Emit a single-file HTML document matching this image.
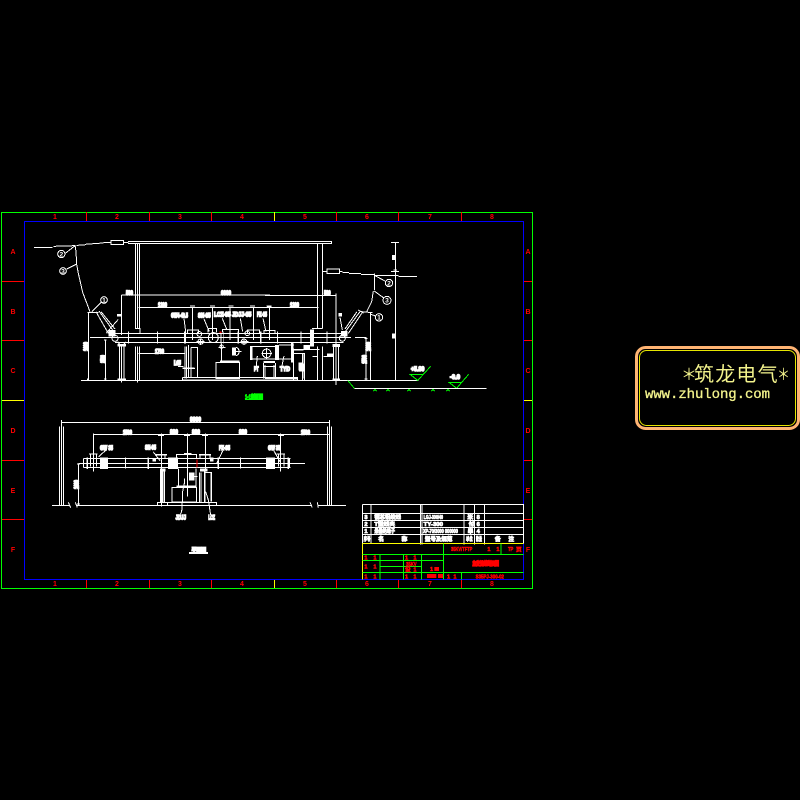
<!DOCTYPE html>
<html>
<head>
<meta charset="utf-8">
<title>Diagram</title>
<style>
html,body{margin:0;padding:0;background:#000;width:800px;height:800px;overflow:hidden}
svg{display:block}
.w{fill:none;stroke:#fff;stroke-width:3;shape-rendering:crispEdges}
.f{fill:#fff;stroke:none;shape-rendering:crispEdges}
.g{fill:none;stroke:#0f0;stroke-width:3;shape-rendering:crispEdges}
.t{font-family:"Liberation Sans","Noto Sans CJK SC",sans-serif;font-weight:bold;font-size:18px;fill:#fff;stroke:#fff;stroke-width:4.5}
.t2{font-family:"Liberation Sans","Noto Sans CJK SC",sans-serif;font-weight:bold;font-size:17px;fill:#fff;stroke:#fff;stroke-width:2.5}
.tn{font-family:"Liberation Sans",sans-serif;font-weight:bold;font-size:20px;fill:#fff}
.r{font-family:"Liberation Sans","Noto Sans CJK SC",sans-serif;font-weight:bold;font-size:7px;fill:#f00}
.rs{font-family:"Liberation Sans","Noto Sans CJK SC",sans-serif;font-weight:bold;font-size:17px;fill:#f00;stroke:#f00;stroke-width:1.5}
.wm{font-family:"Liberation Sans","Noto Sans CJK SC",sans-serif;fill:#f3f38c}
</style>
</head>
<body>
<svg width="800" height="800" viewBox="0 0 800 800" xmlns="http://www.w3.org/2000/svg">
<rect width="800" height="800" fill="#000"/>

<!-- frame -->
<g fill="none" shape-rendering="crispEdges" stroke-width="1">
<rect x="1.5" y="212.5" width="531" height="376" stroke="#0f0"/>
<rect x="24.5" y="221.5" width="499" height="358" stroke="#00f"/>
<path stroke="#f00" d="M86.5 212V221M149.5 212V221M211.5 212V221M336.5 212V221M398.5 212V221M461.5 212V221M86.5 580V588M149.5 580V588M211.5 580V588M336.5 580V588M398.5 580V588M461.5 580V588M2 281.5H24M2 340.5H24M2 460.5H24M2 519.5H24M524 281.5H532M524 340.5H532M524 460.5H532M524 519.5H532"/>
<path stroke="#ff0" d="M274.5 212V221M274.5 580V588M2 400.5H24M524 400.5H532"/>
</g>
<g class="r" text-anchor="middle">
<text x="55" y="219">1</text><text x="117" y="219">2</text><text x="180" y="219">3</text><text x="242" y="219">4</text><text x="305" y="219">5</text><text x="367" y="219">6</text><text x="430" y="219">7</text><text x="492" y="219">8</text>
<text x="55" y="586">1</text><text x="117" y="586">2</text><text x="180" y="586">3</text><text x="242" y="586">4</text><text x="305" y="586">5</text><text x="367" y="586">6</text><text x="430" y="586">7</text><text x="492" y="586">8</text>
<text x="13" y="254">A</text><text x="13" y="314">B</text><text x="13" y="373">C</text><text x="13" y="433">D</text><text x="13" y="493">E</text><text x="13" y="552">F</text>
<text x="528" y="254">A</text><text x="528" y="314">B</text><text x="528" y="373">C</text><text x="528" y="433">D</text><text x="528" y="493">E</text><text x="528" y="552">F</text>
</g>

<!-- elevation left -->
<g transform="translate(0,205) scale(.33333)">
<path class="w" d="M102 127H158M160 124L225 122M230 121L255 120M255 118L281 116L310 114M310 112H333M371 112H385M225 120L228 140L230 178L235 205L248 262L270 320"/>
<rect class="w" x="333" y="106" width="38" height="13"/>
<path class="w" d="M384 109H810M384 116H810M406 116V370M412 116V370M418 116V370M405 370H420V385M406 425V527M412 425V533M418 425V527"/>
<circle class="w" cx="184" cy="147" r="11"/><circle class="w" cx="189" cy="198" r="10"/><circle class="w" cx="312" cy="285" r="10"/>
<text class="tn" x="184" y="154" text-anchor="middle">2</text><text class="tn" x="189" y="205" text-anchor="middle">3</text><text class="tn" x="312" y="292" text-anchor="middle">1</text>
<path class="w" d="M196 145L225 122M200 192L230 177M303 292L275 320M265 322V526M262 322H295M262 520V526M288 320L325 385M297 318L338 375M303 320L345 372M318 385L355 343M316 405V525M312 405H320M312 522H320M243 526H810"/>
<rect class="f" x="326" y="375" width="20" height="20"/>
<circle class="w" cx="345" cy="400" r="9"/>
<rect class="f" x="351" y="327" width="13" height="8"/>
<text class="t" transform="translate(264,438) rotate(-90)" textLength="27" lengthAdjust="spacingAndGlyphs">1000</text>
<text class="t" transform="translate(315,474) rotate(-90)" textLength="24" lengthAdjust="spacingAndGlyphs">2500</text>
<path class="w" d="M364 270V390M364 270H810M415 307H810M270 397H555M345 385H555M345 413H555M385 380V415M472 380V415M352 423H378M358 415V527M365 425V533M372 425V527M353 410L360 420M378 410L370 420M415 445H555"/>
<rect class="f" x="352" y="417" width="26" height="8"/>
<rect class="f" x="352" y="521" width="26" height="4"/>
<text class="t" x="378" y="270" textLength="21" lengthAdjust="spacingAndGlyphs">500</text>
<text class="t" x="663" y="270" textLength="30" lengthAdjust="spacingAndGlyphs">6000</text>
<text class="t" x="474" y="306" textLength="27" lengthAdjust="spacingAndGlyphs">1200</text>
<text class="t" x="465" y="445" textLength="27" lengthAdjust="spacingAndGlyphs">1700</text>
<text class="t" x="522" y="480" textLength="21" lengthAdjust="spacingAndGlyphs">LGJ</text>
<path class="w" d="M534 484H550M548 489H584"/>
</g>

<!-- elevation middle -->
<g transform="translate(170,290) scale(.33333)">
<path class="w" d="M67 52V150M127 52V150M180 52V150M250 52V150M298 52V150M42 85L47 125M102 87L118 125M157 85L170 118M211 85L218 125M279 85L288 125M0 130H430M0 143H430M0 157H430M60 48H75M120 48H135M175 48H190M240 48H255M290 48H305"/>
<rect class="f" x="42" y="125" width="6" height="36"/>
<rect class="f" x="152" y="125" width="2" height="36"/><rect class="f" x="160" y="125" width="2" height="36"/>
<rect x="148" y="125" width="7" height="4" fill="#f00" shape-rendering="crispEdges"/>
<rect class="f" x="202" y="125" width="5" height="36"/><rect class="f" x="270" y="125" width="5" height="36"/>
<path class="w" d="M52 130V120H85V130M114 128V116H140V128M158 128V118H205V128M232 130V120H268V130M282 130V122H315V130"/>
<g class="w">
<circle cx="88" cy="132" r="7"/><circle cx="92" cy="155" r="8"/><circle cx="130" cy="143" r="15"/><circle cx="222" cy="155" r="8"/><circle cx="232" cy="130" r="7"/><circle cx="155" cy="170" r="5"/>
</g>
<path class="w" d="M80 155H104M92 145V165M212 155H235M222 145V165M145 172H167M155 161V215"/>
<text class="t" x="3" y="83" textLength="51" lengthAdjust="spacingAndGlyphs">GW4-40.5</text>
<text class="t" x="84" y="83" textLength="38" lengthAdjust="spacingAndGlyphs">SN-35</text>
<text class="t" x="132" y="80" textLength="50" lengthAdjust="spacingAndGlyphs">LCZ-35</text>
<text class="t" x="186" y="80" textLength="58" lengthAdjust="spacingAndGlyphs">JDJJ-35</text>
<text class="t" x="261" y="80" textLength="30" lengthAdjust="spacingAndGlyphs">FZ-35</text>
<path class="w" d="M45 170V265M50 170V265M55 165V262M63 172H83V262H63V172M53 158H70"/>
<text class="t" x="12" y="225" textLength="20" lengthAdjust="spacingAndGlyphs">LG</text>
<path class="w" d="M25 230H40M38 235H75M37 263H382V270H37V263M0 271H450"/>
<rect class="w" x="138" y="217" width="71" height="48"/>
<rect class="f" x="150" y="211" width="59" height="6"/>
<rect class="f" x="186" y="173" width="12" height="24"/>
<path class="w" d="M198 172A13 13 0 0 1 198 197M190 185H214"/>
<rect class="f" x="240" y="168" width="8" height="42"/>
<path class="w" d="M248 170H315M248 207H315M240 190H248"/>
<circle class="w" cx="290" cy="190" r="13"/>
<path class="w" d="M274 190H306M290 174V206M327 165H372M327 207H372M372 180H400"/>
<rect class="f" x="315" y="165" width="12" height="45"/>
<rect class="f" x="363" y="158" width="8" height="60"/>
<rect class="f" x="280" y="213" width="35" height="6"/>
<path class="w" d="M280 219V265M285 225V265M312 225V265M316 219V265M280 230H316M262 198L258 235M342 198L335 233"/>
<text class="t" x="252" y="243" textLength="14" lengthAdjust="spacingAndGlyphs">PT</text>
<text class="t" x="330" y="243" textLength="30" lengthAdjust="spacingAndGlyphs">TYD</text>
<path class="w" d="M397 190V265M402 190V265M375 178H445M395 190H405M430 200H442"/>
<rect class="f" x="386" y="218" width="12" height="24"/>
<rect class="f" x="400" y="165" width="20" height="12"/>
<rect class="f" x="420" y="118" width="12" height="50"/>
</g>

<!-- elevation right -->
<g transform="translate(265,205) scale(.33333)">
<path class="w" d="M0 109H200V116H0M157 116V370M172 116V370M141 370H172M157 425V526M172 425V526M172 199H186M224 199H232M232 202H252M252 205H288M288 208H330M330 211H400M400 214H456"/>
<rect class="w" x="186" y="192" width="38" height="14"/>
<path class="w" d="M0 271H213M0 307H160M213 265V540M13 307V366M6 304H20M0 385H235M0 398H235M0 413H235M205 397H258M270 397H305M38 380V415M108 380V415M186 380V415M205 425V525M220 425V525M87 433H163M86 430V526M86 445H118V525M113 445V525M143 455H155M175 455H205M0 526H460M0 520H97V526"/>
<rect class="f" x="135" y="375" width="12" height="50"/>
<rect class="f" x="202" y="417" width="23" height="9"/>
<rect class="f" x="202" y="521" width="23" height="4"/>
<rect class="f" x="186" y="445" width="18" height="10"/>
<rect class="f" x="115" y="422" width="20" height="10"/>
<rect class="f" x="102" y="475" width="13" height="24"/>
<text class="t" x="177" y="270" textLength="20" lengthAdjust="spacingAndGlyphs">500</text>
<text class="t" x="75" y="306" textLength="27" lengthAdjust="spacingAndGlyphs">1200</text>
<path class="w" d="M316 322V526M303 400V525M299 400H307M299 522H307M290 320L322 323M285 320L230 395M276 320L240 372M290 325L250 385M280 315L296 325"/>
<rect class="f" x="228" y="378" width="20" height="16"/>
<circle class="w" cx="232" cy="400" r="9"/>
<rect class="f" x="220" y="324" width="11" height="11"/>
<path class="w" d="M225 337L232 375M318 328L331 333M328 205V255M325 258L320 290L305 320M330 212L360 228M328 258L355 278"/>
<text class="t" transform="translate(317,438) rotate(-90)" textLength="27" lengthAdjust="spacingAndGlyphs">1000</text>
<text class="t" transform="translate(304,476) rotate(-90)" textLength="26" lengthAdjust="spacingAndGlyphs">2500</text>
<circle class="w" cx="372" cy="234" r="11"/><circle class="w" cx="366" cy="286" r="12"/><circle class="w" cx="342" cy="337" r="11"/>
<text class="tn" x="372" y="241" text-anchor="middle">2</text><text class="tn" x="366" y="293" text-anchor="middle">3</text><text class="tn" x="342" y="344" text-anchor="middle">1</text>
<path class="w" d="M391 112V526M378 112H402M378 200H402M385 195H396"/>
<rect class="f" x="381" y="150" width="10" height="15"/>
<rect class="f" x="381" y="385" width="10" height="16"/>
<path class="g" d="M435 508H475L458 526ZM475 508L497 484M552 532H590L575 550ZM590 532L611 508M248 526L268 550M330 549V556M325 558L330 553L335 558M369 549V556M364 558L369 553L374 558M432 549V556M427 558L432 553L437 558M504 549V556M499 558L504 553L509 558M549 549V556M544 558L549 553L554 558"/>
<path class="w" d="M268 550H665"/>
<text class="t" x="438" y="498" textLength="40" lengthAdjust="spacingAndGlyphs">+5.80</text>
<text class="t" x="555" y="522" textLength="30" lengthAdjust="spacingAndGlyphs">-0.0</text>
</g>
<text x="254" y="399" text-anchor="middle" font-family="Liberation Sans,Noto Sans CJK SC,sans-serif" font-size="6" font-weight="bold" fill="#0f0" stroke="#0f0" stroke-width="1" textLength="18" lengthAdjust="spacingAndGlyphs">1-1剖面图</text>
<path d="M245 399.5H263" stroke="#0f0" stroke-width="1" shape-rendering="crispEdges"/>

<!-- plan -->
<g transform="translate(0,400) scale(.33333)">
<path class="w" d="M156 316H210M230 316H935M955 316H1038M205 307L212 323M226 307L232 323M930 307L937 323M952 307L955 323M185 60V316M178 80V316M190 80V316M982 80V316M988 60V316M994 80V316M185 67H988M280 103H988"/>
<path class="w" d="M280 100V215M484 100V320M562 100V290M616 100V215M841 100V215M474 106H492M552 106H570M606 106H624M834 106H852M250 175H872M235 190H915M250 203H872M250 175V203M868 175V203M376 172V205M721 172V205M235 190V316M231 192H240M231 312H240"/>
<g class="f">
<rect x="300" y="172" width="24" height="35"/><rect x="504" y="172" width="30" height="35"/><rect x="798" y="172" width="27" height="35"/>
<rect x="259" y="172" width="5" height="35"/><rect x="442" y="172" width="5" height="35"/><rect x="652" y="172" width="5" height="35"/><rect x="862" y="172" width="5" height="35"/>
<rect x="267" y="160" width="26" height="4"/><rect x="830" y="160" width="25" height="4"/><rect x="465" y="162" width="36" height="5"/><rect x="597" y="162" width="36" height="5"/>
<rect x="480" y="205" width="17" height="10"/><rect x="480" y="215" width="10" height="92"/><rect x="600" y="205" width="22" height="10"/><rect x="612" y="215" width="5" height="92"/><rect x="631" y="217" width="5" height="88"/><rect x="530" y="256" width="60" height="6"/><rect x="567" y="217" width="16" height="25"/>
<rect x="458" y="175" width="10" height="10"/><rect x="630" y="173" width="10" height="11"/>
</g>
<rect x="589" y="178" width="3" height="24" fill="#f00" shape-rendering="crispEdges"/>
<path class="w" d="M272 164V200M290 164V200M835 164V200M852 164V200M495 175V167M630 175V167M600 175V167M318 150L296 170M460 156L480 182M668 153L650 190M822 153L840 185M530 175V163H590V175M552 160H574M535 205V258M588 205V258M494 215V306M598 217V306M603 217V306M616 217H636"/>
<rect class="w" x="516" y="262" width="74" height="44"/>
<path class="w" d="M472 316V307H650V316M503 307V316M575 229H593M553 235V250L548 275L547 305L545 335L540 345M617 275L625 300L632 345"/>
<text class="t" x="369" y="103" textLength="27" lengthAdjust="spacingAndGlyphs">1500</text>
<text class="t" x="510" y="102" textLength="24" lengthAdjust="spacingAndGlyphs">800</text>
<text class="t" x="576" y="102" textLength="24" lengthAdjust="spacingAndGlyphs">800</text>
<text class="t" x="717" y="102" textLength="24" lengthAdjust="spacingAndGlyphs">800</text>
<text class="t" x="903" y="103" textLength="27" lengthAdjust="spacingAndGlyphs">1500</text>
<text class="t" x="570" y="65" textLength="33" lengthAdjust="spacingAndGlyphs">8000</text>
<text class="t" x="300" y="150" textLength="39" lengthAdjust="spacingAndGlyphs">GW 35</text>
<text class="t" x="435" y="149" textLength="33" lengthAdjust="spacingAndGlyphs">SN-35</text>
<text class="t" x="657" y="150" textLength="33" lengthAdjust="spacingAndGlyphs">FZ-35</text>
<text class="t" x="804" y="150" textLength="37" lengthAdjust="spacingAndGlyphs">GW 35</text>
<text class="t" x="527" y="359" textLength="31" lengthAdjust="spacingAndGlyphs">JDJJ</text>
<text class="t" x="625" y="359" textLength="20" lengthAdjust="spacingAndGlyphs">LCZ</text>
<text class="t" transform="translate(235,267) rotate(-90)" textLength="27" lengthAdjust="spacingAndGlyphs">1800</text>
<text class="t" x="575" y="457" textLength="43" lengthAdjust="spacingAndGlyphs">平面图</text>
<rect class="f" x="567" y="456" width="57" height="6"/>
</g>

<!-- title block -->
<g transform="translate(355,495) scale(.33333)">
<path class="w" d="M22 28H505V145M22 28V145M22 55H505M22 76H505M22 97H505M22 118H505M48 28V145M196 28V148M201 28V148M327 28V148M358 28V148M388 28V148"/>
<text class="t2" x="28" y="72">3</text><text class="t2" x="58" y="72" textLength="80" lengthAdjust="spacingAndGlyphs">钢芯铝绞线</text><text class="t2" x="206" y="72" textLength="58" lengthAdjust="spacingAndGlyphs">LGJ-300/40</text><text class="t2" x="337" y="72">米</text><text class="t2" x="365" y="72">8</text>
<text class="t2" x="28" y="93">2</text><text class="t2" x="58" y="93" textLength="62" lengthAdjust="spacingAndGlyphs">T型线夹</text><text class="t2" x="206" y="93" textLength="58" lengthAdjust="spacingAndGlyphs">TY-300</text><text class="t2" x="341" y="93">付</text><text class="t2" x="365" y="93">6</text>
<text class="t2" x="28" y="114">1</text><text class="t2" x="58" y="114" textLength="62" lengthAdjust="spacingAndGlyphs">悬垂绝缘子</text><text class="t2" x="204" y="114" textLength="105" lengthAdjust="spacingAndGlyphs">XP-70/3000 000000</text><text class="t2" x="338" y="114">串</text><text class="t2" x="365" y="114">4</text>
<text class="t2" x="26" y="138" textLength="20" lengthAdjust="spacingAndGlyphs">序号</text><text class="t2" x="70" y="138">名</text><text class="t2" x="140" y="138">称</text><text class="t2" x="210" y="138" textLength="82" lengthAdjust="spacingAndGlyphs">型号及规范</text><text class="t2" x="333" y="138" textLength="20" lengthAdjust="spacingAndGlyphs">单位</text><text class="t2" x="363" y="138" textLength="18" lengthAdjust="spacingAndGlyphs">数量</text><text class="t2" x="420" y="138">备</text><text class="t2" x="460" y="138">注</text>
<path d="M22 145H505M22 145V253" fill="none" stroke="#ff0" stroke-width="3" shape-rendering="crispEdges"/>
<path class="g" d="M265 145V253M22 178H505M22 196H265M75 214H200M22 232H505M75 178V253M145 178V253M200 178V253M320 232V253M438 145V178"/>
<text class="rs" x="288" y="168" textLength="64" lengthAdjust="spacingAndGlyphs">35KV/TFTP</text>
<text class="rs" x="397" y="168">1</text><text class="rs" x="424" y="168">1</text>
<text class="rs" x="459" y="168" textLength="16" lengthAdjust="spacingAndGlyphs">TP</text><text class="rs" x="483" y="170">页</text>
<text class="rs" x="352" y="211" textLength="80" lengthAdjust="spacingAndGlyphs" stroke-width="4" style="stroke-width:4">主变进线断面图</text>
<text class="rs" x="153" y="213" textLength="32" lengthAdjust="spacingAndGlyphs">35KV</text>
<text class="rs" x="362" y="250" textLength="85" lengthAdjust="spacingAndGlyphs">S35PJ-300-02</text>
<g class="rs">
<text x="28" y="194">1</text><text x="55" y="194">1</text><text x="150" y="194">1</text><text x="175" y="194">1</text>
<text x="28" y="221">1</text><text x="55" y="221">1</text><text x="150" y="230">设</text><text x="175" y="230">1</text>
<text x="28" y="250">1</text><text x="55" y="250">1</text><text x="150" y="250">1</text><text x="175" y="250">1</text>
<text x="225" y="228">1</text><text x="276" y="250">1</text><text x="295" y="250">1</text>
</g>
<rect x="238" y="216" width="14" height="12" fill="#f00"/><rect x="216" y="237" width="28" height="12" fill="#f00"/><rect x="249" y="237" width="15" height="12" fill="#f00"/>
</g>

<!-- watermark -->
<rect x="636.5" y="347.5" width="162" height="81" rx="9" fill="none" stroke="#ffb473" stroke-width="3"/>
<rect x="639.5" y="350.5" width="156" height="75" rx="7" fill="none" stroke="#e6e600" stroke-width="1"/>
<text class="wm" x="681" y="380" font-size="16">＊</text>
<text class="wm" x="694" y="381" font-size="20" letter-spacing="1.2">筑龙电气</text>
<text class="wm" x="777" y="380" font-size="16" textLength="13" lengthAdjust="spacingAndGlyphs">＊</text>
<text x="645" y="398" font-family="Liberation Mono,monospace" font-size="14" fill="#f3f38c" stroke="#f3f38c" stroke-width=".3" textLength="125" lengthAdjust="spacing">www.zhulong.com</text>
</svg>
</body>
</html>
